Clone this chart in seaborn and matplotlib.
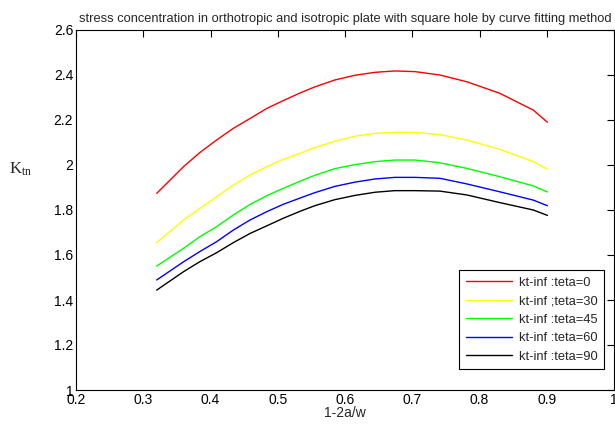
import matplotlib
matplotlib.use("Agg")
import matplotlib.pyplot as plt
import seaborn as sns
import pandas as pd

x = [0.32, 0.360, 0.384, 0.409, 0.434, 0.459, 0.484, 0.508, 0.533, 0.555,
     0.585, 0.615, 0.645, 0.674, 0.704, 0.741, 0.781, 0.830, 0.880, 0.901]
k_teta0 = [1.874, 1.993, 2.055, 2.111, 2.163, 2.207, 2.252, 2.286, 2.320, 2.347,
           2.378, 2.399, 2.412, 2.418, 2.415, 2.400, 2.370, 2.319, 2.244, 2.190]
k_teta30 = [1.655, 1.756, 1.807, 1.859, 1.911, 1.956, 1.993, 2.025, 2.052, 2.077,
            2.106, 2.128, 2.141, 2.145, 2.145, 2.135, 2.111, 2.070, 2.015, 1.981]
k_teta45 = [1.551, 1.630, 1.681, 1.726, 1.778, 1.825, 1.864, 1.896, 1.928, 1.954,
            1.984, 2.002, 2.015, 2.022, 2.022, 2.010, 1.985, 1.948, 1.907, 1.880]
k_teta60 = [1.489, 1.570, 1.615, 1.659, 1.711, 1.756, 1.793, 1.825, 1.853, 1.877,
            1.905, 1.924, 1.938, 1.945, 1.945, 1.941, 1.916, 1.881, 1.844, 1.819]
k_teta90 = [1.444, 1.526, 1.570, 1.610, 1.655, 1.696, 1.730, 1.763, 1.794, 1.819,
            1.846, 1.865, 1.879, 1.886, 1.886, 1.884, 1.867, 1.833, 1.800, 1.776]

labels = ["kt-inf :teta=0", "kt-inf ;teta=30", "kt-inf :teta=45",
          "kt-inf :teta=60", "kt-inf :teta=90"]
series = [k_teta0, k_teta30, k_teta45, k_teta60, k_teta90]
colors = ["#ff0000", "#ffff00", "#00ff00", "#0000ff", "#000000"]
xticks = [0.2, 0.3, 0.4, 0.5, 0.6, 0.7, 0.8, 0.9, 1]
yticks = [1, 1.2, 1.4, 1.6, 1.8, 2, 2.2, 2.4, 2.6]

rows = []
for lab, ys in zip(labels, series):
    for xi, yi in zip(x, ys):
        rows.append({"x": xi, "y": yi, "series": lab})
df = pd.DataFrame(rows)

sns.set_style("white")
plt.rcParams['font.family'] = ['Liberation Sans', 'DejaVu Sans']

fig = plt.figure(figsize=(6.15, 4.24), dpi=100)
ax = fig.add_axes([76/615, 34/424, 538/615, 360/424])

sns.lineplot(data=df, x="x", y="y", hue="series", hue_order=labels,
             palette=colors, linewidth=1.0, ax=ax, sort=False,
             estimator=None)

ax.set_xlim(0.2, 1)
ax.set_ylim(1, 2.6)
ax.set_xticks(xticks)
ax.set_xticklabels([f"{v:g}" for v in xticks])
ax.set_yticks(yticks)
ax.set_yticklabels([f"{v:g}" for v in yticks])
ax.tick_params(direction="in", length=5, width=0.8, top=True, right=True,
               labelsize=10, colors="black", pad=2)
for s in ax.spines.values():
    s.set_color("black")
    s.set_linewidth(0.8)

ax.set_xlabel("1-2a/w", fontsize=10)
ax.xaxis.set_label_coords(0.5, -0.045)
ax.xaxis.label.set_va("top")
ax.set_ylabel(r"$\mathregular{K_{tn}}$", fontsize=12, rotation=0,
              family="Liberation Serif", va="center", ha="center")
ax.yaxis.set_label_coords(-0.104, 0.612)
ax.set_title("stress concentration in orthotropic and isotropic plate with square hole by curve fitting method",
             fontsize=9.3, pad=6)

leg = ax.legend(loc="lower right", bbox_to_anchor=(0.9814, 0.0583),
                fontsize=9.3, frameon=True, fancybox=False,
                edgecolor="black", framealpha=1, borderaxespad=0,
                handlelength=3.6, handletextpad=0.5, labelspacing=0.5,
                borderpad=0.5)
leg.get_frame().set_linewidth(0.8)
for h in leg.get_lines():
    h.set_linewidth(1.0)

fig.savefig("out.png", dpi=100, facecolor="white")
